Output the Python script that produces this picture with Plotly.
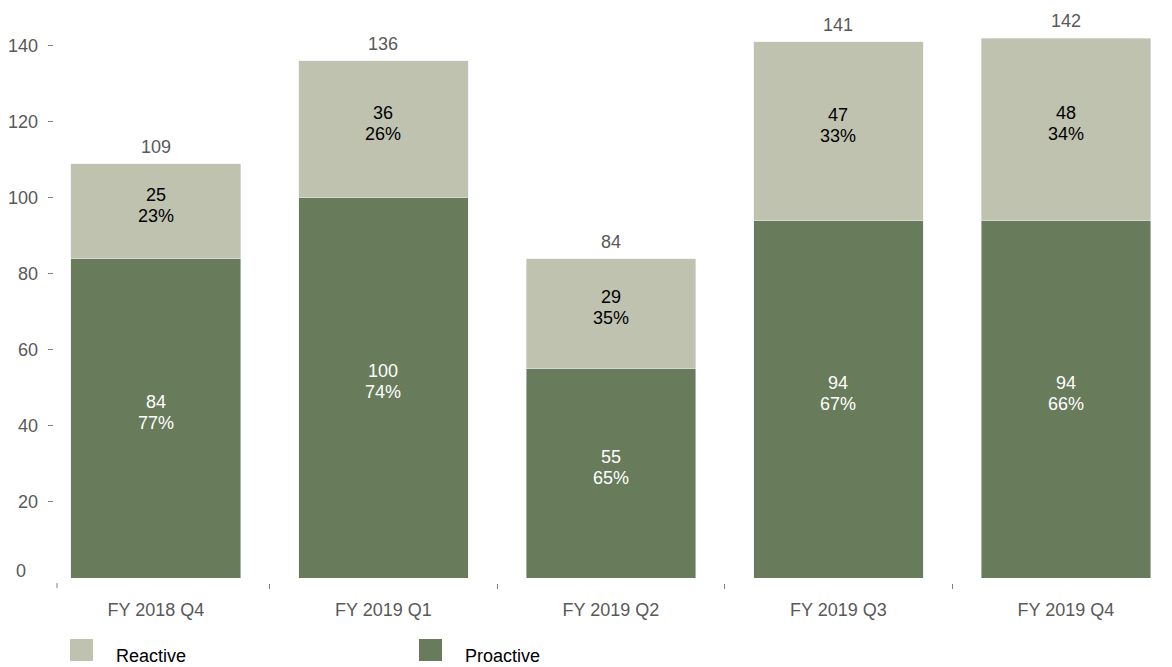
import plotly.graph_objects as go

# Quarterly counts split by type
categories = ["FY 2018 Q4", "FY 2019 Q1", "FY 2019 Q2", "FY 2019 Q3", "FY 2019 Q4"]
proactive = [84, 100, 55, 94, 94]
reactive = [25, 36, 29, 47, 48]
series_names = ["Reactive", "Proactive"]
y_ticks = [0, 20, 40, 60, 80, 100, 120, 140]

COLOR_PRO = "#687B5A"
COLOR_RE = "#BFC2AF"
FONT = "Liberation Sans, Arial, sans-serif"
FS = 18

totals = [p + r for p, r in zip(proactive, reactive)]

W, H = 1172, 667
ML, MB = 47, 84
plot_w = W - ML
plot_h = H - MB
x_dom0 = 10 / plot_w          # plot area starts 10px right of the y axis line
y_dom0 = 5 / plot_h           # bars start 5px above the x axis line

xs = list(range(len(categories)))

fig = go.Figure()
fig.add_trace(go.Bar(x=xs, y=proactive, name=series_names[1],
                     marker_color=COLOR_PRO, width=0.747, showlegend=False))
fig.add_trace(go.Bar(x=xs, y=reactive, name=series_names[0],
                     marker_color=COLOR_RE, width=0.747, showlegend=False))


def segment_label(x, base, value, total, color):
    """Two-line value / share label centred in a stacked segment."""
    mid = base + value / 2
    pct = round(100 * value / total)
    for txt, shift in ((str(value), 16.5), (f"{pct}%", -4.5)):
        fig.add_annotation(x=x, y=mid, text=txt, showarrow=False,
                           yanchor="middle", yshift=shift,
                           font=dict(size=FS, color=color, family=FONT))


for x, p, r, t in zip(xs, proactive, reactive, totals):
    segment_label(x, 0, p, t, "white")
    segment_label(x, p, r, t, "black")
    # total above each bar
    fig.add_annotation(x=x, y=t, text=str(t), showarrow=False,
                       yanchor="bottom", yshift=5,
                       font=dict(size=FS, color="#595959", family=FONT))

# the zero label sits a little above its tick
fig.add_annotation(xref="paper", yref="y", x=0, y=y_ticks[0],
                   text=str(y_ticks[0]), showarrow=False,
                   xanchor="right", yanchor="middle", xshift=-19, yshift=7,
                   font=dict(size=FS, color="#595959", family=FONT))

shapes = []
# tick at the left end of the category axis
shapes.append(dict(type="line", xref="paper", yref="paper",
                   x0=x_dom0, x1=x_dom0, y0=0, y1=-5 / plot_h,
                   line=dict(color="#7f7f7f", width=1)))

# legend: large swatches with labels
legend_items = [(series_names[0], COLOR_RE, 70), (series_names[1], COLOR_PRO, 419)]
for name, col, px in legend_items:
    shapes.append(dict(type="rect", xref="paper", yref="paper",
                       x0=(px - ML) / plot_w, x1=(px + 23 - ML) / plot_w,
                       y0=(plot_h - 661) / plot_h, y1=(plot_h - 639) / plot_h,
                       fillcolor=col, line=dict(width=0)))
    fig.add_annotation(xref="paper", yref="paper",
                       x=(px + 44 - ML) / plot_w, y=(plot_h - 656) / plot_h,
                       xanchor="left", yanchor="middle", text=name,
                       showarrow=False,
                       font=dict(size=FS, color="black", family=FONT))

fig.update_layout(
    width=W, height=H,
    margin=dict(l=ML, r=0, t=0, b=MB),
    barmode="stack",
    plot_bgcolor="white", paper_bgcolor="white",
    font=dict(family=FONT, size=FS, color="#595959"),
    shapes=shapes,
    xaxis=dict(
        domain=[x_dom0, 1], anchor="free", position=0,
        range=[-0.435, 4.466],
        tickmode="array", tickvals=[i + 0.5 for i in xs[:-1]],
        ticktext=["" for _ in xs[:-1]],
        ticks="outside", ticklen=5, tickcolor="#7f7f7f",
        showline=False, showgrid=False, zeroline=False,
    ),
    xaxis2=dict(
        domain=[x_dom0, 1], anchor="free", position=0, overlaying="x",
        matches="x", range=[-0.435, 4.466],
        tickmode="array", tickvals=xs, ticktext=categories,
        ticks="", showline=False, showgrid=False, zeroline=False,
        ticklabelstandoff=14,
        tickfont=dict(size=FS, color="#595959", family=FONT),
        side="bottom",
    ),
    yaxis=dict(
        domain=[y_dom0, 1], anchor="free", position=0,
        range=[0, 152], tickmode="array", tickvals=y_ticks,
        ticktext=[""] + [str(v) for v in y_ticks[1:]],
        ticks="inside", ticklen=5, tickcolor="#7f7f7f",
        ticklabelstandoff=9,
        showline=False, showgrid=False, zeroline=False,
        tickfont=dict(size=FS, color="#595959", family=FONT),
    ),
)

# invisible trace to activate the labelled category axis
fig.add_trace(go.Scatter(x=xs, y=[0] * len(xs), xaxis="x2", mode="markers",
                         marker=dict(opacity=0), showlegend=False,
                         hoverinfo="skip"))

fig.write_html("out.html")
